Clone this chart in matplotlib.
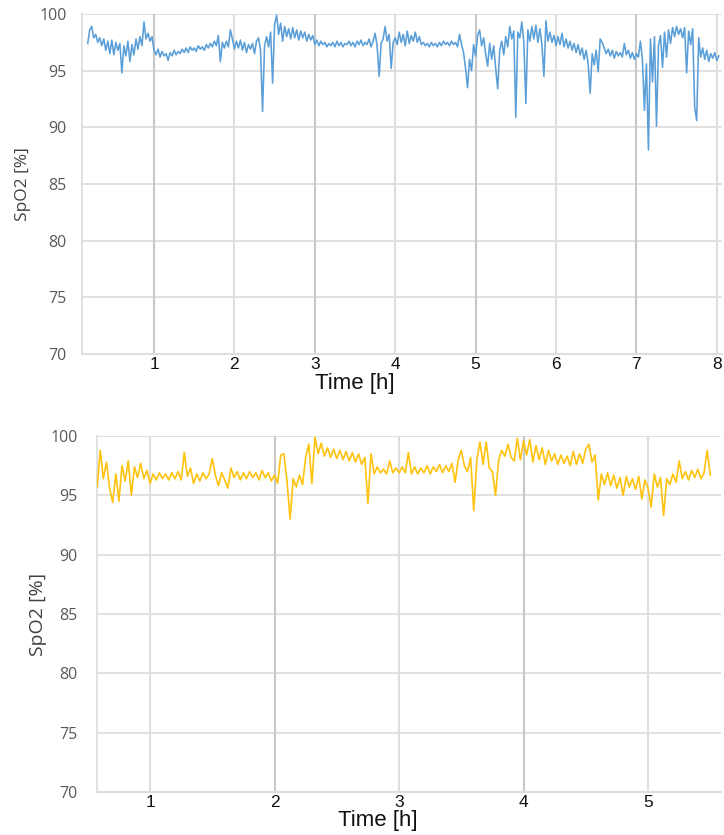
import numpy as np
import matplotlib
matplotlib.use("Agg")
import matplotlib.pyplot as plt
from matplotlib import font_manager

# ---- Night 1 (blue trace) ----
night1_start_h = 0.175
night1_step_h = 0.025
night1_spo2 = [
    97.4, 98.6, 98.9, 97.9, 98.2, 97.5, 97.9, 97.2, 97.8, 96.8, 97.6, 96.5, 97.7, 96.4, 97.5, 96.8,
    97.4, 94.8, 97.2, 96.3, 97.6, 95.8, 97.3, 96.4, 97.8, 96.9, 98.0, 97.2, 99.3, 97.8, 98.3, 97.6, 98.0,
    # 1 h
    96.8, 96.4, 96.9, 96.2, 96.7, 96.3, 96.5, 95.9, 96.6, 96.3, 96.8, 96.4, 96.7, 96.5, 96.9, 96.6,
    97.0, 96.6, 97.1, 96.8, 97.0, 96.7, 97.2, 96.9, 97.1, 96.8, 97.3, 97.0, 97.4, 97.1, 97.6, 97.2,
    98.1, 95.8, 97.5, 97.0, 97.6, 97.1, 98.6, 97.8,
    # 2 h
    96.9, 97.6, 97.0, 97.7, 96.8, 97.5, 96.6, 97.3, 96.9, 97.4, 96.5, 97.6, 97.9, 96.8, 91.4, 97.2,
    98.0, 97.1, 98.4, 93.9, 99.1, 99.9, 98.2, 99.2, 97.6, 98.9, 98.0, 98.7, 97.8, 98.8, 97.9, 98.6,
    97.7, 98.5, 97.9, 98.4, 97.6, 98.2, 97.7, 98.1,
    # 3 h
    97.3, 97.7, 97.2, 97.6, 97.3, 97.5, 97.1, 97.4, 97.2, 97.5, 97.1, 97.6, 97.2, 97.5, 97.1, 97.4,
    97.3, 97.6, 97.2, 97.5, 97.1, 97.6, 97.3, 97.7, 97.2, 97.5, 97.3, 97.8, 97.1, 97.6, 98.3, 97.2,
    94.5, 97.4, 97.8, 98.9, 97.6, 98.2, 95.2, 97.5,
    # 4 h
    97.9, 97.3, 98.4, 97.5, 98.2, 97.2, 98.5, 97.4, 98.1, 97.6, 98.4, 97.5, 98.0, 97.3, 97.5, 97.2,
    97.4, 97.1, 97.5, 97.2, 97.4, 97.1, 97.5, 97.2, 97.6, 97.3, 97.5, 97.2, 97.6, 97.3, 97.5, 97.1,
    98.2, 97.3, 96.6, 95.2, 93.5, 96.0, 95.0, 97.3,
    # 5 h
    96.3, 98.1, 98.6, 97.2, 97.9, 96.5, 95.4, 97.4, 96.0, 97.2, 95.2, 93.4, 96.8, 97.6, 96.4, 98.0,
    97.1, 98.9, 97.8, 98.5, 90.9, 98.4, 97.9, 99.3, 97.5, 92.1, 98.6, 97.6, 98.9, 97.8, 99.0, 97.5,
    98.7, 97.3, 94.5, 99.4, 97.6, 98.4, 97.5, 98.1,
    # 6 h
    97.2, 98.0, 97.3, 98.3, 97.1, 97.8, 97.0, 97.6, 96.8, 97.4, 96.6, 97.3, 96.4, 97.0, 96.0, 96.8,
    95.6, 93.0, 96.5, 95.5, 96.8, 94.9, 97.8, 97.5, 97.0, 96.5, 96.9, 96.3, 96.8, 96.1, 96.7, 96.3,
    96.6, 96.2, 97.4, 96.4, 96.8, 96.1, 96.6, 96.0,
    # 7 h
    96.5, 96.2, 97.6, 96.0, 91.5, 95.6, 88.0, 97.8, 94.0, 98.0, 90.1, 97.2, 98.1, 95.3, 98.4, 96.2,
    98.6, 97.4, 98.8, 98.0, 98.9, 98.2, 98.7, 97.9, 98.8, 94.8, 98.5, 97.3, 98.7, 91.8, 90.6, 97.9,
    96.2, 97.0, 96.0, 96.8, 95.8, 96.5, 96.1, 96.6, 95.9, 96.3,
]

# ---- Night 2 (gold trace) ----
night2_start_h = 0.575
night2_step_h = 0.025
night2_spo2 = [
    95.7, 98.8, 96.4, 97.8, 95.6, 94.4, 96.8, 94.5, 97.5, 96.2, 97.9, 95.0, 97.4, 96.5, 97.7, 96.4,
    97.1, 96.0,
    # 1 h
    96.8, 96.3, 96.9, 96.4, 96.8, 96.3, 96.9, 96.4, 97.0, 96.3, 98.6, 96.6, 97.3, 96.0, 96.8, 96.2,
    96.9, 96.4, 96.8, 98.1, 96.7, 95.8, 96.9, 96.3, 95.6, 97.3, 96.5, 97.0, 96.3, 96.9, 96.4, 97.0,
    96.5, 96.9, 96.3, 97.1, 96.5, 96.9, 96.2, 96.7,
    # 2 h
    96.0, 98.4, 98.5, 96.2, 93.0, 96.4, 95.7, 96.7, 95.9, 98.2, 99.3, 96.0, 99.9, 98.5, 99.4, 98.3,
    99.0, 98.2, 98.9, 98.1, 98.8, 98.0, 98.7, 97.9, 98.6, 97.8, 98.5, 97.6, 98.2, 94.3, 98.5, 96.8,
    97.4, 96.9, 97.2, 96.8, 97.9, 96.9, 97.3, 96.9,
    # 3 h
    97.4, 96.9, 98.6, 96.8, 97.4, 96.8, 97.3, 96.9, 97.5, 96.8, 97.4, 97.0, 97.6, 96.9, 97.5, 97.0,
    97.7, 96.1, 98.0, 98.8, 97.5, 97.0, 98.2, 93.7, 98.0, 99.5, 97.6, 99.5, 97.3, 97.0, 95.0, 98.0,
    98.8, 98.3, 99.3, 98.2, 97.9, 99.8, 98.0, 99.6,
    # 4 h
    98.4, 99.7, 97.8, 99.2, 98.0, 99.0, 97.6, 98.8, 97.9, 98.5, 97.6, 98.4, 97.7, 98.3, 97.5, 98.7,
    97.6, 98.5, 97.7, 98.9, 99.3, 97.8, 98.4, 94.6, 96.8, 95.9, 96.9, 95.8, 96.7, 95.6, 96.5, 95.0,
    96.6, 95.7, 96.4, 95.5, 96.6, 94.7, 96.3, 95.6,
    # 5 h
    94.0, 96.8, 95.7, 96.5, 93.3, 96.4, 95.9, 96.8, 96.1, 97.9, 96.4, 97.0, 96.3, 97.1, 96.5, 97.2,
    96.4, 96.9, 98.8, 96.7,
]

hour_ticks_1 = [1, 2, 3, 4, 5, 6, 7, 8]
hour_ticks_2 = [1, 2, 3, 4, 5]
spo2_ticks = [70, 75, 80, 85, 90, 95, 100]

BLUE = "#5b9fd8"
GOLD = "#ffc20e"
GRID = "#dedede"
GRID_DARK = "#c8c8c8"
TICK_GRAY = "#595959"

available = {f.name for f in font_manager.fontManager.ttflist}
narrow = ["Liberation Sans Narrow", "DejaVu Sans"] if "Liberation Sans Narrow" in available \
    else ["Liberation Sans", "DejaVu Sans"]
ytick_font = ["Open Sans", "DejaVu Sans"]

fig = plt.figure(figsize=(7.24, 8.35), dpi=100)


def style_axis(ax, xticks, dark_hours, xlim, ytick_size, xtick_size, xlabel_size, xlabel_xy,
               ylabel_size, ylabel_pad, ytick_pad):
    ax.set_xlim(*xlim)
    ax.set_ylim(70, 100)
    ax.set_yticks(spo2_ticks)
    ax.set_xticks(xticks)
    ax.grid(False)
    for y in spo2_ticks[1:]:
        ax.axhline(y, color=GRID, lw=1.3, zorder=0)
    for x in xticks:
        ax.axvline(x, color=GRID_DARK if x in dark_hours else GRID, lw=1.5, zorder=0)
    for s in ("top", "right"):
        ax.spines[s].set_visible(False)
    ax.spines["left"].set_color(GRID)
    ax.spines["left"].set_linewidth(1.3)
    ax.spines["bottom"].set_color(GRID)
    ax.spines["bottom"].set_linewidth(1.5)
    ax.tick_params(axis="both", length=0)
    ax.tick_params(axis="y", pad=ytick_pad)
    ax.tick_params(axis="x", pad=2)
    for lab in ax.get_yticklabels():
        lab.set_fontfamily(ytick_font)
        lab.set_fontsize(ytick_size)
        lab.set_color(TICK_GRAY)
    for lab in ax.get_xticklabels():
        lab.set_fontfamily(narrow)
        lab.set_fontsize(xtick_size)
        lab.set_color("#111111")
    ax.set_xlabel("Time [h]", fontsize=xlabel_size, family=narrow, color="#111111", labelpad=0)
    ax.xaxis.set_label_coords(*xlabel_xy, transform=ax.transAxes)
    ax.xaxis.label.set_verticalalignment("top")
    ax.set_ylabel("SpO2 [%]", fontsize=ylabel_size, family=ytick_font, color="#404040",
                  labelpad=ylabel_pad)


# top panel
ax1 = fig.add_axes([82 / 724, 1 - 354 / 835, 640 / 724, 340 / 835])
t1 = night1_start_h + night1_step_h * np.arange(len(night1_spo2))
ax1.plot(t1, night1_spo2, color=BLUE, lw=1.15, zorder=3)
style_axis(ax1, hour_ticks_1, {1, 3, 5, 7}, (0.104, 8.065), 11.5, 12.5, 16,
           (0.427, -19 / 340), 12.5, 6, 11)

# bottom panel
ax2 = fig.add_axes([97 / 724, 1 - 792 / 835, 624 / 724, 356 / 835])
t2 = night2_start_h + night2_step_h * np.arange(len(night2_spo2))
ax2.plot(t2, night2_spo2, color=GOLD, lw=1.2, zorder=3)
style_axis(ax2, hour_ticks_2, {2, 4}, (0.574, 5.586), 11.5, 12.5, 16,
           (0.45, -18 / 356), 14, 2, 14)

fig.savefig("out.png", dpi=100)
